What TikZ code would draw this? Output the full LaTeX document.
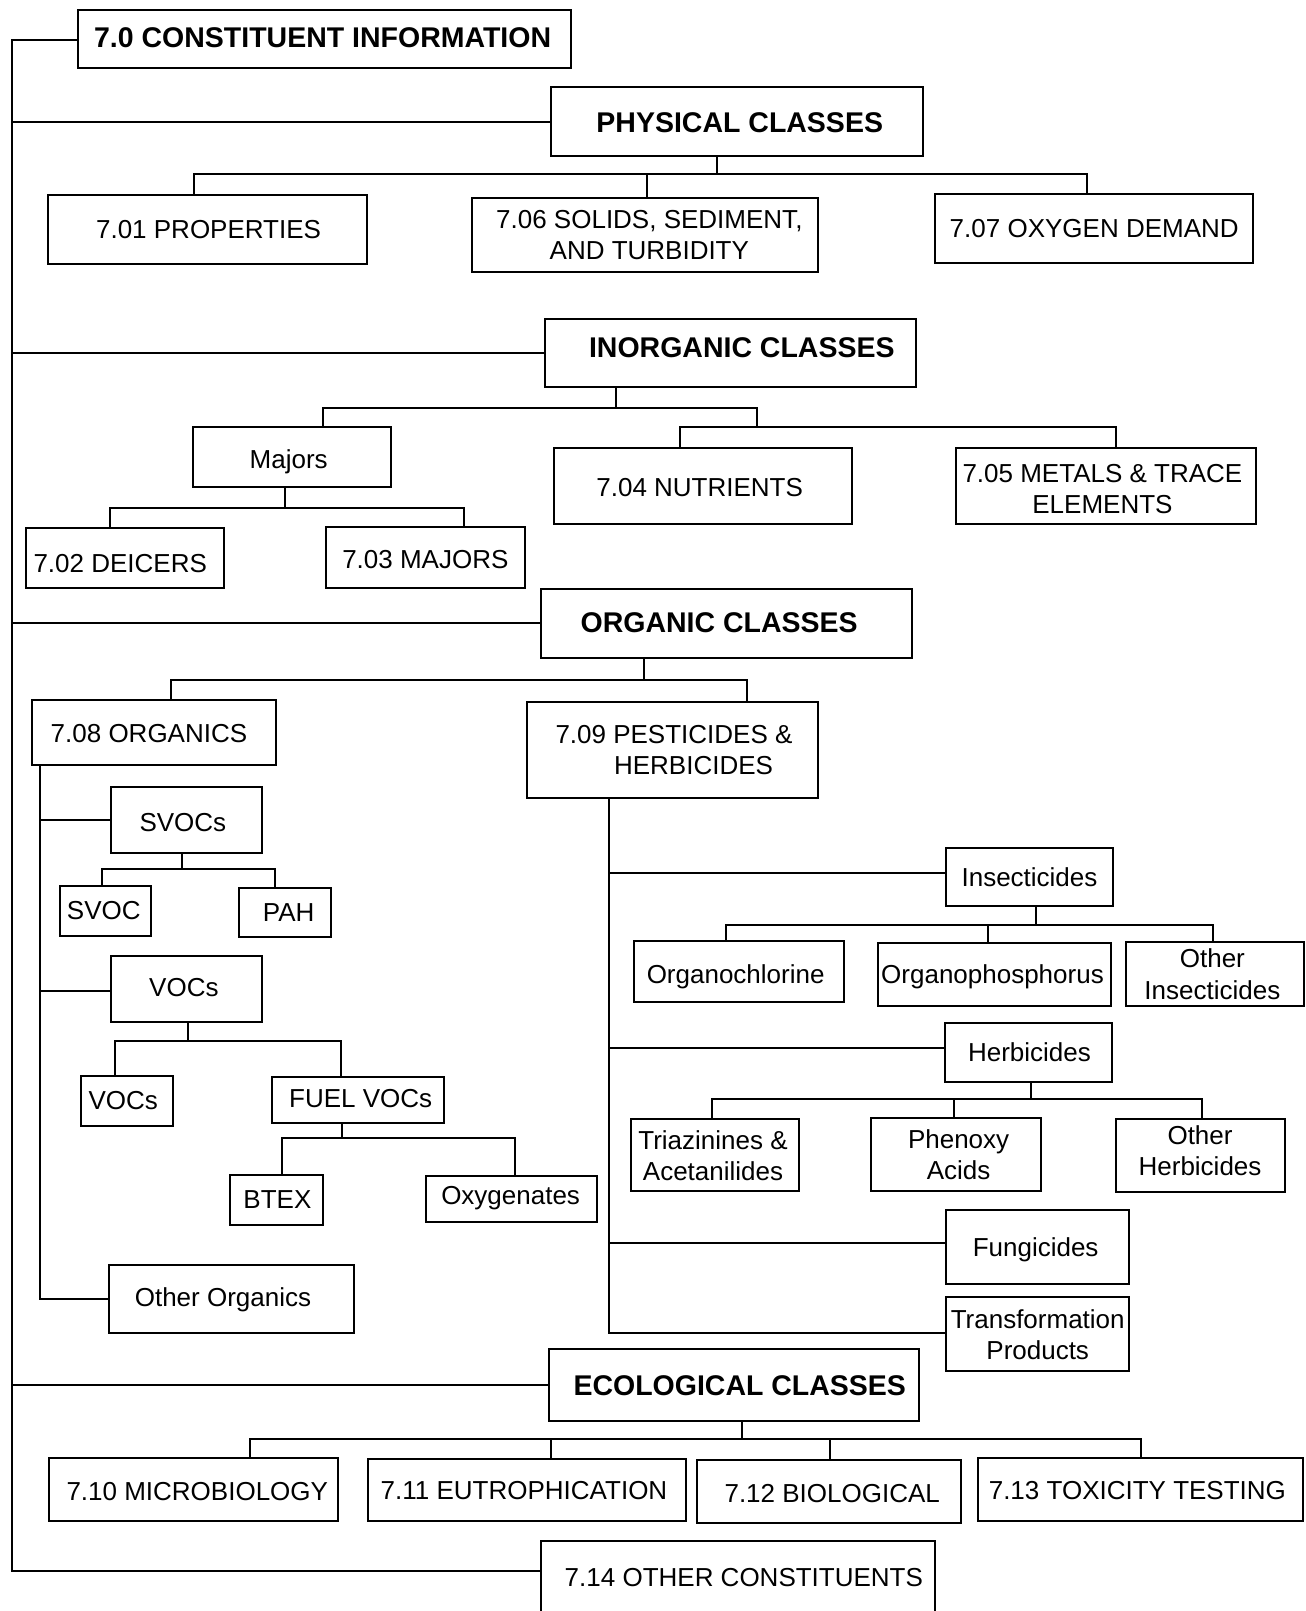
\documentclass[tikz,border=0pt]{standalone}
\usepackage{fontspec}
\setmainfont{Liberation Sans}
\usetikzlibrary{fit,calc}
\tikzset{
  box/.style={draw, line width=2pt, inner sep=0pt},
  txt/.style={inner sep=0pt, font=\fontsize{26}{31.5}\selectfont, text height=18.6pt, text depth=0pt},
  mtxt/.style={inner sep=0pt, font=\fontsize{26}{31.5}\selectfont, align=center},
  mltxt/.style={inner sep=0pt, font=\fontsize{26}{31.5}\selectfont, align=left},
  btxt/.style={inner sep=0pt, font=\fontsize{28.5}{33}\selectfont\bfseries, text height=20.4pt, text depth=0pt},
  conn/.style={line width=2pt},
}
% #1 text style, #2 name, #3 corner, #4 corner, #5 text position, #6 text
\newcommand\mybox[6][txt]{%
  \coordinate (#2-a) at (#3);
  \coordinate (#2-b) at (#4);
  \node[box, fit=(#2-a)(#2-b)] (#2) {};
  \node[#1] (#2-t) at (#5) {#6};
}
\begin{document}
\begin{tikzpicture}[x=1.0275pt, y=-1.0275pt]
\useasboundingbox (0,0) rectangle (1271,1568);
\clip (0,0) rectangle (1271,1568);

% ---------- boxes ----------
\mybox[btxt]{c70}{76,10}{556,66}{314,36}{7.0 CONSTITUENT INFORMATION}
\mybox[btxt]{phys}{536,85}{898,152}{720,119}{PHYSICAL CLASSES}
\mybox{p01}{47,190}{357,257}{203,223}{7.01 PROPERTIES}
\mybox[mtxt]{p06}{459,193}{796,265}{632,229}{7.06 SOLIDS, SEDIMENT,\\AND TURBIDITY}
\mybox{p07}{910,189}{1220,256}{1065,222}{7.07 OXYGEN DEMAND}

\mybox[btxt]{inorg}{530,310}{892,377}{722,338}{INORGANIC CLASSES}
\mybox{maj}{188,416}{381,474}{281,447}{Majors}
\mybox{d02}{25,514}{218,572}{117,548}{7.02 DEICERS}
\mybox{m03}{317,513}{511,572}{414,544}{7.03 MAJORS}
\mybox{n04}{539,436}{829,510}{681,474}{7.04 NUTRIENTS}
\mybox[mtxt]{m05}{930,436}{1222,510}{1073,476}{7.05 METALS \& TRACE\\ELEMENTS}

\mybox[btxt]{org}{527,573}{888,640}{700,606}{ORGANIC CLASSES}
\mybox{o08}{31,681}{269,745}{145,714}{7.08 ORGANICS}
\mybox[mltxt]{p09}{513,683}{796,777}{656,730}{7.09 PESTICIDES \&\\\hspace*{58.6pt}HERBICIDES}
\mybox{svocs}{108,766}{255,830}{178,800}{SVOCs}
\mybox{svoc}{58,862}{147,911}{101,886}{SVOC}
\mybox{pah}{233,864}{322,912}{281,888}{PAH}
\mybox{vocs}{108,930}{255,995}{179,961}{VOCs}
\mybox{voc}{79,1047}{168,1096}{120,1071}{VOCs}
\mybox{fuel}{265,1048}{432,1093}{351,1069}{FUEL VOCs}
\mybox{btex}{224,1144}{314,1192}{270,1167}{BTEX}
\mybox{oxy}{415,1145}{581,1189}{497,1163}{Oxygenates}
\mybox{oorg}{106,1231}{345,1297}{217,1263}{Other Organics}

\mybox{insect}{921,825}{1083,882}{1002,854}{Insecticides}
\mybox{ochl}{617,916}{821,975}{716,948}{Organochlorine}
\mybox{ophos}{855,918}{1081,979}{966,948}{Organophosphorus}
\mybox[mtxt]{oins}{1096,917}{1269,979}{1180,948}{Other\\Insecticides}
\mybox{herb}{920,996}{1082,1053}{1002,1024}{Herbicides}
\mybox[mtxt]{tri}{614,1089}{778,1159}{694,1125}{Triazinines \&\\Acetanilides}
\mybox[mtxt]{phen}{848,1088}{1013,1159}{933,1124}{Phenoxy\\Acids}
\mybox[mtxt]{oherb}{1086,1089}{1251,1160}{1168,1120}{Other\\Herbicides}
\mybox{fung}{921,1178}{1099,1250}{1008,1214}{Fungicides}
\mybox[mtxt]{trans}{921,1262}{1099,1334}{1010,1299}{Transformation\\Products}

\mybox[btxt]{eco}{534,1313}{894,1383}{720,1348}{ECOLOGICAL CLASSES}
\mybox{e10}{48,1419}{329,1480}{192,1451}{7.10 MICROBIOLOGY}
\mybox{e11}{358,1420}{668,1480}{510,1450}{7.11 EUTROPHICATION}
\mybox{e12}{678,1421}{935,1482}{810,1453}{7.12 BIOLOGICAL}
\mybox{e13}{952,1419}{1268,1480}{1107,1450}{7.13 TOXICITY TESTING}
\mybox{e14}{527,1500}{910,1620}{724,1535}{7.14 OTHER CONSTITUENTS}

% ---------- main trunk ----------
\coordinate (T) at (12,0);
\path (e14.north west) ++(0,30) coordinate (e14c);
\path (c70.north west) ++(0,30) coordinate (c70c);
\draw[conn] (c70c) -| (T |- e14c) -- (e14c);
\draw[conn] (phys.west) -- (phys.west -| T);
\draw[conn] (inorg.west) -- (inorg.west -| T);
\draw[conn] (org.west) -- (org.west -| T);
\draw[conn] (eco.west) -- (eco.west -| T);

% ---------- physical ----------
\coordinate (pb) at (698,169);
\draw[conn] (phys.south -| pb) -- (pb);
\draw[conn] (p01.north -| 189,0) |- (pb);
\draw[conn] (p06.north -| 630,0) |- (pb);
\draw[conn] (p07.north -| 1058,0) |- (pb);

% ---------- inorganic ----------
\coordinate (ib) at (600,397);
\coordinate (ib2) at (737,416);
\draw[conn] (inorg.south -| ib) -- (ib);
\draw[conn] (maj.north -| 314,0) |- (ib);
\draw[conn] (ib) -| (ib2);
\draw[conn] (n04.north -| 662,0) |- (ib2);
\draw[conn] (m05.north -| 1086,0) |- (ib2);
\coordinate (mb) at (277,494);
\draw[conn] (maj.south -| mb) -- (mb);
\draw[conn] (d02.north -| 107,0) |- (mb);
\draw[conn] (m03.north -| 452,0) |- (mb);

% ---------- organic ----------
\coordinate (ob) at (627,662);
\draw[conn] (org.south -| ob) -- (ob);
\draw[conn] (o08.north -| 166,0) |- (ob);
\draw[conn] (p09.north -| 727,0) |- (ob);

\coordinate (s8) at (39,0);
\draw[conn] (o08.south -| s8) |- (oorg.west);
\draw[conn] (svocs.west) -- (svocs.west -| s8);
\draw[conn] (vocs.west |- 0,965) -- (s8 |- 0,965);

\coordinate (sb) at (177,846);
\draw[conn] (svocs.south -| sb) -- (sb);
\draw[conn] (svoc.north -| 99,0) |- (sb);
\draw[conn] (pah.north -| 268,0) |- (sb);

\coordinate (vb) at (183,1013);
\draw[conn] (vocs.south -| vb) -- (vb);
\draw[conn] (voc.north -| 112,0) |- (vb);
\draw[conn] (fuel.north -| 332,0) |- (vb);

\coordinate (fb) at (333,1108);
\draw[conn] (fuel.south -| fb) -- (fb);
\draw[conn] (btex.north -| 274,0) |- (fb);
\draw[conn] (oxy.north -| 501,0) |- (fb);

\coordinate (s9) at (593,0);
\draw[conn] (p09.south -| s9) |- (trans.west |- 0,1297);
\draw[conn] (insect.west |- 0,850) -- (s9 |- 0,850);
\draw[conn] (herb.west |- 0,1020) -- (s9 |- 0,1020);
\draw[conn] (fung.west |- 0,1210) -- (s9 |- 0,1210);

\coordinate (nb) at (1008,900);
\draw[conn] (insect.south -| nb) -- (nb);
\draw[conn] (ochl.north -| 707,0) |- (nb);
\draw[conn] (ophos.north -| 962,0) |- (nb);
\draw[conn] (oins.north -| 1181,0) |- (nb);

\coordinate (hb) at (1003,1070);
\draw[conn] (herb.south -| hb) -- (hb);
\draw[conn] (tri.north -| 693,0) |- (hb);
\draw[conn] (phen.north -| 929,0) |- (hb);
\draw[conn] (oherb.north -| 1170,0) |- (hb);

% ---------- ecological ----------
\coordinate (eb) at (722,1401);
\draw[conn] (eco.south -| eb) -- (eb);
\draw[conn] (e10.north -| 243,0) |- (eb);
\draw[conn] (e11.north -| 536,0) |- (eb);
\draw[conn] (e12.north -| 808,0) |- (eb);
\draw[conn] (e13.north -| 1111,0) |- (eb);
\end{tikzpicture}
\end{document}
